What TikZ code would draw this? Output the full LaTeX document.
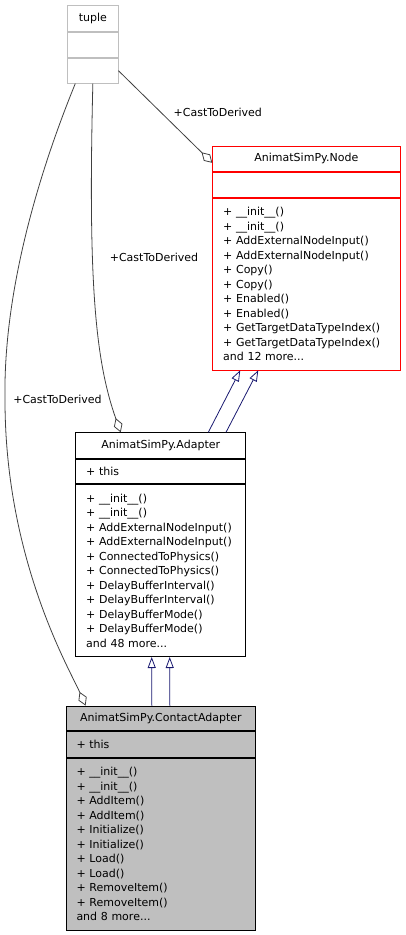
\documentclass[tikz,border=0pt]{standalone}
\usepackage{fontspec}
\newfontfamily\dejavu{DejaVu Sans}
\definecolor{edgegrey}{HTML}{404040}
\definecolor{inhblue}{HTML}{191970}
\definecolor{boxgrey}{HTML}{BFBFBF}
\usetikzlibrary{arrows.meta,positioning,calc}

\begin{document}
\begin{tikzpicture}[x=1pt, y=1pt,
    every node/.style={font=\dejavu\fontsize{11}{14.5}\selectfont, inner sep=0pt},
    part/.style={draw, fill=white, line width=0.8pt, minimum width=#1},
    list/.style={text width=#1, align=left},
    aggr/.style={draw=edgegrey, line width=0.8pt, -{Diamond[open, length=15pt, width=9pt]}},
    inherit/.style={draw=inhblue, line width=0.8pt, -{Triangle[open, length=11pt, width=8pt]}}]
    \useasboundingbox (0,0) rectangle (405,-935);
    % tuple
    \node[part=50.3pt, draw=boxgrey, minimum height=25.5pt] (tupletitle) at (92.85,-18.5) {tuple};
    \node[part=50.3pt, draw=boxgrey, minimum height=25.3pt, below=0pt of tupletitle] (tupleattr) {};
    \node[part=50.3pt, draw=boxgrey, minimum height=25pt, below=0pt of tupleattr] (tupleops) {};
    % AnimatSimPy.Node
    \node[part=187.3pt, draw=red, minimum height=25.7pt] (nodetitle) at (306.35,-158.85) {AnimatSimPy.Node};
    \node[part=187.3pt, draw=red, minimum height=25pt, below=0pt of nodetitle] (nodeattr) {};
    \node[part=187.3pt, draw=red, list=166.3pt, minimum height=171.6pt, below=0pt of nodeattr] (nodeops)
      {+ \_\_init\_\_()\\+ \_\_init\_\_()\\+ AddExternalNodeInput()\\+ AddExternalNodeInput()\\
       + Copy()\\+ Copy()\\+ Enabled()\\+ Enabled()\\+ GetTargetDataTypeIndex()\\
       + GetTargetDataTypeIndex()\\and 12 more...};
    % AnimatSimPy.Adapter
    \node[part=170pt, minimum height=25.6pt] (adaptertitle) at (160.7,-445.5) {AnimatSimPy.Adapter};
    \node[part=170pt, list=149pt, minimum height=24.4pt, below=0pt of adaptertitle] (adapterattr) {+ this};
    \node[part=170pt, list=149pt, minimum height=172.3pt, below=0pt of adapterattr] (adapterops)
      {+ \_\_init\_\_()\\+ \_\_init\_\_()\\+ AddExternalNodeInput()\\+ AddExternalNodeInput()\\
       + ConnectedToPhysics()\\+ ConnectedToPhysics()\\+ DelayBufferInterval()\\
       + DelayBufferInterval()\\+ DelayBufferMode()\\+ DelayBufferMode()\\and 48 more...};
    % AnimatSimPy.ContactAdapter
    \node[part=189.7pt, fill=boxgrey, minimum height=24.7pt] (catitle) at (160.85,-718.35) {AnimatSimPy.ContactAdapter};
    \node[part=189.7pt, fill=boxgrey, list=168.7pt, minimum height=26pt, below=0pt of catitle] (caattr) {+ this};
    \node[part=189.7pt, fill=boxgrey, list=168.7pt, minimum height=171.6pt, below=0pt of caattr] (caops)
      {+ \_\_init\_\_()\\+ \_\_init\_\_()\\+ AddItem()\\+ AddItem()\\+ Initialize()\\
       + Initialize()\\+ Load()\\+ Load()\\+ RemoveItem()\\+ RemoveItem()\\and 8 more...};
    % inheritance
    \draw[inherit] ([xshift=47.6pt]adaptertitle.north) -- ([xshift=-66.1pt]nodeops.south);
    \draw[inherit] ([xshift=65.3pt]adaptertitle.north) -- ([xshift=-48.1pt]nodeops.south);
    \draw[inherit] ([xshift=-9pt]catitle.north) -- ([xshift=-9pt]adapterops.south);
    \draw[inherit] ([xshift=9pt]catitle.north) -- ([xshift=9pt]adapterops.south);
    % CastToDerived
    \coordinate (bend) at (5,-400);
    \draw[aggr] (tupleops.east) -- ([yshift=-4pt]nodetitle.west);
    \draw[aggr] (tupleops.south) .. controls (88,-280) and (95,-360) .. ([xshift=-40pt]adaptertitle.north);
    \draw[aggr] ([xshift=8pt]tupleops.south west) .. controls (40,-170) and (3,-290) .. (bend)
      .. controls (5,-560) and (70,-670) .. ([xshift=20pt]catitle.north west);
    \node (lblnode) at (217.8,-112) {+CastToDerived};
    \node (lbladapter) at (154,-257) {+CastToDerived};
    \node (lblcontact) at (57.5,-399) {+CastToDerived};
\end{tikzpicture}
\end{document}
